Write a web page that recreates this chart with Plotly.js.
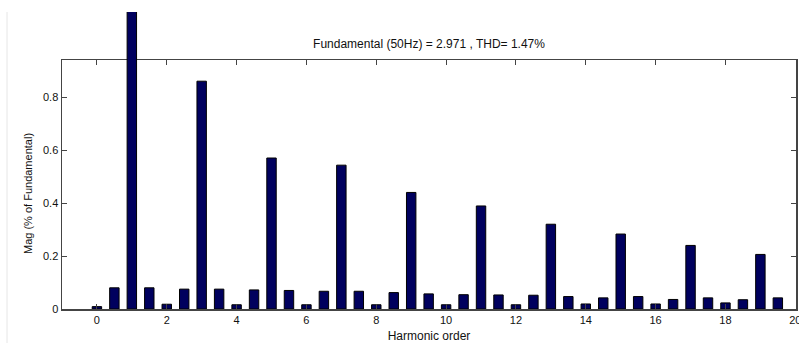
<!DOCTYPE html>
<html>
<head>
<meta charset="utf-8">
<script src="https://cdn.plot.ly/plotly-3.0.1.min.js"></script>
<style>html,body{margin:0;padding:0;background:#fff;}#chart{width:799px;height:343px;}</style>
</head>
<body>
<div id="chart"></div>
<script>
// Harmonic orders (including inter-harmonics at half steps), excluding the fundamental
const harmonicOrder = [0, 0.5, 1.5, 2, 2.5, 3, 3.5, 4, 4.5, 5, 5.5, 6, 6.5, 7, 7.5, 8, 8.5, 9, 9.5,
  10, 10.5, 11, 11.5, 12, 12.5, 13, 13.5, 14, 14.5, 15, 15.5, 16, 16.5, 17, 17.5, 18, 18.5, 19, 19.5];
const magnitude = [0.009, 0.080, 0.080, 0.018, 0.075, 0.860, 0.075, 0.016, 0.072, 0.570, 0.070, 0.016, 0.067, 0.543, 0.067, 0.016, 0.062, 0.440, 0.057,
  0.016, 0.054, 0.389, 0.053, 0.016, 0.052, 0.320, 0.047, 0.019, 0.042, 0.283, 0.047, 0.019, 0.036, 0.240, 0.042, 0.023, 0.035, 0.206, 0.042];
// Fundamental (100 % of itself, drawn clipped)
const fundamentalOrder = [1];
const fundamentalMag = [100];
const xTicks = [0, 2, 4, 6, 8, 10, 12, 14, 16, 18, 20];
const yTicks = [0, 0.2, 0.4, 0.6, 0.8];
const titleText = 'Fundamental (50Hz) = 2.971 , THD= 1.47%';
const xTitle = 'Harmonic order';
const yTitle = 'Mag (% of Fundamental)';

const barColor = '#00005e';
const axisColor = '#444444';
const font = {family: 'Liberation Sans, Arial, sans-serif', size: 11, color: '#111'};

const plotTop = 12, plotBottom = 309, boxTop = 60;
const mainFrac = (plotBottom - boxTop) / (plotBottom - plotTop);
const yMax = 0.94;

const traces = [
  {type: 'bar', x: harmonicOrder, y: magnitude, width: 0.27, xaxis: 'x', yaxis: 'y',
   marker: {color: barColor, line: {color: '#000', width: 1}}, hoverinfo: 'x+y'},
  {type: 'bar', x: fundamentalOrder, y: fundamentalMag, width: 0.27, xaxis: 'x', yaxis: 'y2',
   marker: {color: barColor, line: {color: '#000', width: 1}}, hoverinfo: 'x+y'}
];

const layout = {
  width: 799, height: 343,
  margin: {l: 62, r: 3, t: plotTop, b: 343 - plotBottom},
  paper_bgcolor: '#fff', plot_bgcolor: 'rgba(0,0,0,0)',
  showlegend: false, font: font, bargap: 0,
  title: {text: titleText, font: {family: font.family, size: 12, color: '#111'},
          xref: 'paper', x: 0.5, xanchor: 'center', yref: 'container', y: 1 - 44/343, yanchor: 'middle'},
  xaxis: {range: [-1, 20.02], tickvals: xTicks, ticktext: xTicks.map(String), ticks: 'inside', ticklen: 5,
          tickcolor: axisColor, showline: true, linecolor: axisColor, linewidth: 1.5, mirror: 'ticks',
          showgrid: false, zeroline: false, anchor: 'y', tickfont: {size: 11}, ticklabeloverflow: 'allow',
          title: {text: xTitle, font: {size: 12}, standoff: 7}},
  yaxis: {domain: [0, mainFrac], range: [0, yMax], tickvals: yTicks, ticktext: yTicks.map(String),
          ticks: 'inside', ticklen: 5, tickcolor: axisColor, showline: true, linecolor: axisColor, linewidth: 1.5,
          mirror: 'ticks', showgrid: false, zeroline: false, tickfont: {size: 11}},
  yaxis2: {domain: [0, 1], range: [0, yMax / mainFrac], visible: false, anchor: 'x',
           showgrid: false, zeroline: false, fixedrange: true},
  annotations: [
    {text: yTitle, xref: 'paper', yref: 'paper', x: (28 - 62) / 734, y: (309 - 194) / 297,
     xanchor: 'center', yanchor: 'middle', textangle: -90, showarrow: false, font: {size: 11, color: '#111'}}
  ],
  shapes: [
    {type: 'line', xref: 'paper', yref: 'paper', x0: (7 - 62) / 734, x1: (7 - 62) / 734, y0: -0.12, y1: 1.0,
     line: {color: '#e6e6e6', width: 1}}
  ]
};

Plotly.newPlot('chart', traces, layout, {displayModeBar: false, staticPlot: true});
</script>
</body>
</html>
